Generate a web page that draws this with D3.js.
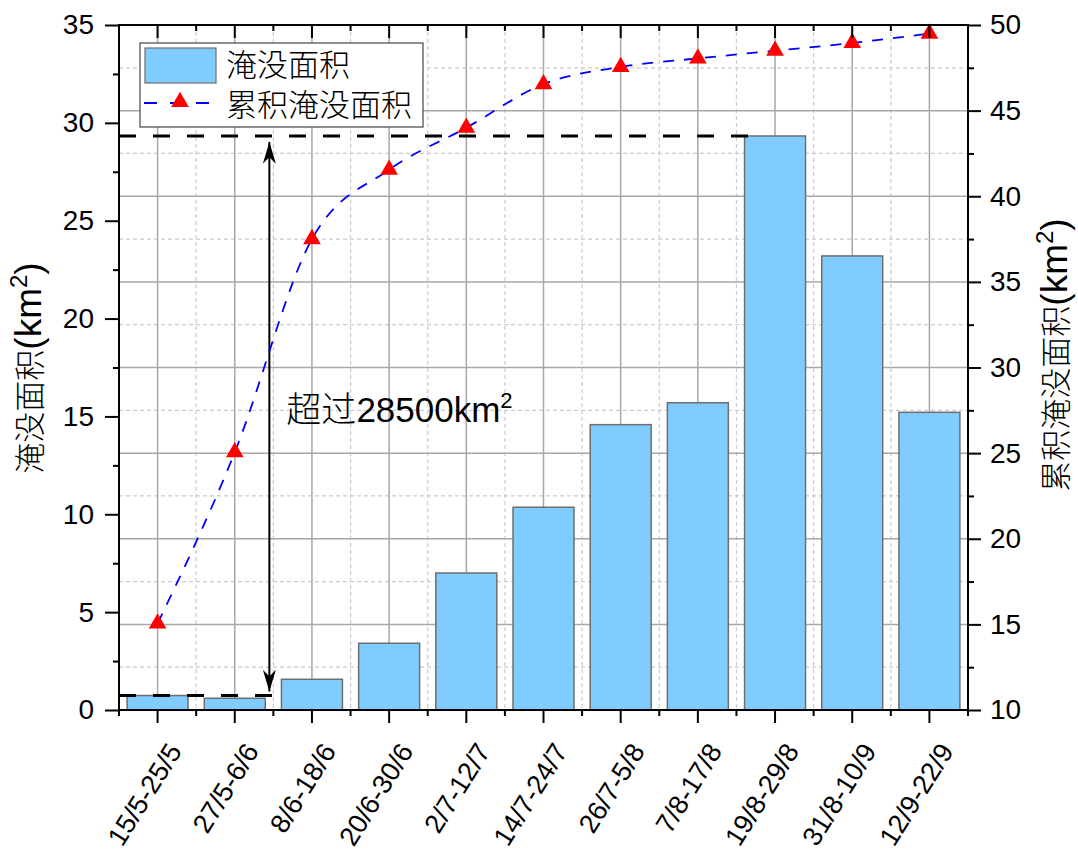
<!DOCTYPE html>
<html>
<head>
<meta charset="utf-8">
<script src="https://cdn.jsdelivr.net/npm/d3@7"></script>
<style>
  body { margin: 0; background: #fff; }
  text { font-family: "Liberation Sans", Arial, "Noto Sans CJK SC", sans-serif; }
</style>
</head>
<body>
<div id="chart"></div>
<script>
// data
const periods = ["15/5-25/5", "27/5-6/6", "8/6-18/6", "20/6-30/6", "2/7-12/7", "14/7-24/7",
                 "26/7-5/8", "7/8-17/8", "19/8-29/8", "31/8-10/9", "12/9-22/9"];
const area = [0.74, 0.6, 1.57, 3.41, 7.0, 10.36, 14.58, 15.7, 29.33, 23.2, 15.21];
const cumulative = [15.05, 25.05, 37.5, 41.55, 44.0, 46.55, 47.55, 48.05, 48.5, 48.95, 49.5];
const leftTicks = [0, 5, 10, 15, 20, 25, 30, 35];
const rightTicks = [10, 15, 20, 25, 30, 35, 40, 45, 50];
const legendNames = ["淹没面积", "累积淹没面积"];

const W = 1078, H = 854;
const margin = { top: 25, right: 110, bottom: 144, left: 119 };
const width = W - margin.left - margin.right,
      height = H - margin.top - margin.bottom;

const svg = d3.select('#chart').append('svg')
    .attr('width', W)
    .attr('height', H);
const g = svg.append('g')
    .attr('transform', `translate(${margin.left},${margin.top})`);

const x = d3.scaleBand().domain(periods).range([0, width]).padding(0);
const y = d3.scaleLinear().domain([0, 35]).range([height, 0]);
const y2 = d3.scaleLinear().domain([10, 50]).range([height, 0]);
const barW = x.bandwidth() * 0.79;
const cx = d => x(d) + x.bandwidth() / 2;

// grid: horizontal from right axis, vertical from categories
const minor2 = d3.range(12.5, 50, 5);
g.selectAll('.hminor').data(minor2).enter().append('line')
    .attr('x1', 0).attr('x2', width)
    .attr('y1', d => y2(d)).attr('y2', d => y2(d))
    .attr('stroke', '#cccccc').attr('stroke-width', 1.2).attr('stroke-dasharray', '4,3');
g.selectAll('.vminor').data(periods.slice(1)).enter().append('line')
    .attr('x1', d => x(d)).attr('x2', d => x(d))
    .attr('y1', 0).attr('y2', height)
    .attr('stroke', '#cccccc').attr('stroke-width', 1.2).attr('stroke-dasharray', '4,3');
g.selectAll('.hmajor').data(rightTicks.slice(1, -1)).enter().append('line')
    .attr('x1', 0).attr('x2', width)
    .attr('y1', d => y2(d)).attr('y2', d => y2(d))
    .attr('stroke', '#a8a8a8').attr('stroke-width', 1.5);
g.selectAll('.vmajor').data(periods).enter().append('line')
    .attr('x1', d => cx(d)).attr('x2', d => cx(d))
    .attr('y1', 0).attr('y2', height)
    .attr('stroke', '#a8a8a8').attr('stroke-width', 1.5);

// bars
g.selectAll('.bar').data(periods).enter().append('rect')
    .attr('x', d => cx(d) - barW / 2)
    .attr('width', barW)
    .attr('y', (d, i) => y(area[i]))
    .attr('height', (d, i) => height - y(area[i]))
    .attr('fill', '#80ccff')
    .attr('stroke', '#6e6e6e')
    .attr('stroke-width', 1.5);

// reference dashed lines
const refs = [
    { v: area[0], end: x(periods[2]) },
    { v: area[8], end: x(periods[8]) + 20 }
];
g.selectAll('.ref').data(refs).enter().append('line')
    .attr('x1', 0).attr('x2', d => d.end)
    .attr('y1', d => y(d.v)).attr('y2', d => y(d.v))
    .attr('stroke', '#000').attr('stroke-width', 3).attr('stroke-dasharray', '17,17');

// double arrow
svg.append('defs').append('marker')
    .attr('id', 'arr').attr('viewBox', '0 0 20 12')
    .attr('refX', 20).attr('refY', 6)
    .attr('markerWidth', 22).attr('markerHeight', 13)
    .attr('markerUnits', 'userSpaceOnUse')
    .attr('orient', 'auto-start-reverse')
  .append('path').attr('d', 'M0,0 L20,6 L0,12 L6,6 Z').attr('fill', '#000');
const ax = x(periods[2]) - 4;
g.append('line')
    .attr('x1', ax).attr('x2', ax)
    .attr('y1', y(area[8]) + 6).attr('y2', y(area[0]) - 4)
    .attr('stroke', '#000').attr('stroke-width', 2)
    .attr('marker-start', 'url(#arr)').attr('marker-end', 'url(#arr)');

const note = g.append('text')
    .attr('x', ax + 17).attr('y', 397)
    .attr('font-size', 35).attr('fill', '#000');
note.append('tspan').attr('font-family', 'Noto Sans CJK SC').attr('font-weight', 300).text('超过');
note.append('tspan').text('28500km');
note.append('tspan').attr('dy', -14).attr('font-size', 22).text('2');

// cumulative line
const line = d3.line()
    .x((d, i) => cx(periods[i]))
    .y(d => y2(d))
    .curve(d3.curveMonotoneX);
g.append('path').datum(cumulative)
    .attr('d', line)
    .attr('fill', 'none')
    .attr('stroke', '#0000ff').attr('stroke-width', 1.8)
    .attr('stroke-dasharray', '11,10');
const tri = d3.symbol().type(d3.symbolTriangle).size(135);
g.selectAll('.tri').data(cumulative).enter().append('path')
    .attr('d', tri)
    .attr('transform', (d, i) => `translate(${cx(periods[i])},${y2(d)})`)
    .attr('fill', '#ff0000');

// axes
function styleAxis(sel) {
    sel.select('.domain').remove();
    sel.selectAll('.tick line').attr('stroke', '#000').attr('stroke-width', 2);
    sel.selectAll('.tick text').attr('font-size', 28).attr('fill', '#000')
        .attr('font-family', '"Liberation Sans", Arial, sans-serif');
}
// left
g.append('g').call(d3.axisLeft(y).tickValues(d3.range(2.5, 35, 5)).tickSize(6).tickFormat(''))
    .call(styleAxis);
g.append('g').call(d3.axisLeft(y).tickValues(leftTicks).tickSize(14).tickPadding(11))
    .call(styleAxis);
// right
g.append('g').attr('transform', `translate(${width},0)`)
    .call(d3.axisRight(y2).tickValues(minor2).tickSize(6).tickFormat('')).call(styleAxis);
g.append('g').attr('transform', `translate(${width},0)`)
    .call(d3.axisRight(y2).tickValues(rightTicks).tickSize(13).tickPadding(9)).call(styleAxis);

// bottom and top ticks: major at centers, minor at band edges
const edges = periods.map(d => x(d)).concat([width]);
g.selectAll('.bminor').data(edges).enter().append('line')
    .attr('x1', d => d).attr('x2', d => d)
    .attr('y1', height).attr('y2', height + 6)
    .attr('stroke', '#000').attr('stroke-width', 2);
g.selectAll('.bmajor').data(periods).enter().append('line')
    .attr('x1', d => cx(d)).attr('x2', d => cx(d))
    .attr('y1', height).attr('y2', height + 13)
    .attr('stroke', '#000').attr('stroke-width', 2);
g.selectAll('.tminor').data(edges).enter().append('line')
    .attr('x1', d => d).attr('x2', d => d)
    .attr('y1', 0).attr('y2', 6)
    .attr('stroke', '#000').attr('stroke-width', 2);
g.selectAll('.tmajor').data(periods).enter().append('line')
    .attr('x1', d => cx(d)).attr('x2', d => cx(d))
    .attr('y1', 0).attr('y2', 13)
    .attr('stroke', '#000').attr('stroke-width', 2);
g.selectAll('.xlab').data(periods).enter().append('text')
    .attr('transform', d => `translate(${cx(d) + 25},${height + 41}) rotate(-58)`)
    .attr('text-anchor', 'end')
    .attr('font-size', 27)
    .text(d => d);

// frame
g.append('rect').attr('x', 0).attr('y', 0).attr('width', width).attr('height', height)
    .attr('fill', 'none').attr('stroke', '#000').attr('stroke-width', 2);

// axis titles
function title(tx, ty, name) {
    const t = svg.append('text')
        .attr('transform', `translate(${tx},${ty}) rotate(-90)`)
        .attr('text-anchor', 'middle')
        .attr('font-size', 37);
    t.append('tspan').attr('font-family', 'Noto Sans CJK SC').attr('font-weight', 300)
        .attr('font-size', 31).text(name);
    t.append('tspan').text('(km');
    t.append('tspan').attr('dy', -14).attr('font-size', 24).text('2');
    t.append('tspan').attr('dy', 14).text(')');
}
title(41, 368, legendNames[0]);
title(1067, 355, legendNames[1]);

// legend
const lg = svg.append('g').attr('transform', 'translate(140,43)');
lg.append('rect').attr('width', 283).attr('height', 84)
    .attr('fill', '#fff').attr('stroke', '#444').attr('stroke-width', 1.2);
lg.append('rect').attr('x', 5).attr('y', 5).attr('width', 71).attr('height', 35)
    .attr('fill', '#80ccff').attr('stroke', '#6e6e6e').attr('stroke-width', 1.2);
lg.append('line').attr('x1', 4).attr('x2', 70).attr('y1', 60).attr('y2', 60)
    .attr('stroke', '#0000ff').attr('stroke-width', 2).attr('stroke-dasharray', '13,13');
lg.append('path').attr('d', tri).attr('transform', 'translate(40,59)').attr('fill', '#ff0000');
lg.selectAll('.lt').data(legendNames).enter().append('text')
    .attr('x', 86).attr('y', (d, i) => 33 + i * 40)
    .attr('font-size', 31)
    .attr('font-family', 'Noto Sans CJK SC').attr('font-weight', 300)
    .text(d => d);
</script>
</body>
</html>
